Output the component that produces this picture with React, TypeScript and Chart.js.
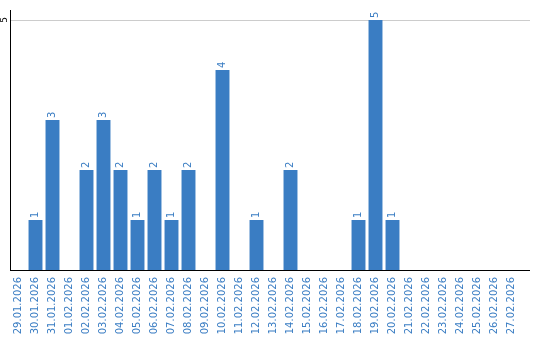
import React, { useEffect, useRef } from "react";
import { Chart, registerables } from "chart.js";

Chart.register(...registerables);

const categories = [
  "29.01.2026", "30.01.2026", "31.01.2026", "01.02.2026", "02.02.2026",
  "03.02.2026", "04.02.2026", "05.02.2026", "06.02.2026", "07.02.2026",
  "08.02.2026", "09.02.2026", "10.02.2026", "11.02.2026", "12.02.2026",
  "13.02.2026", "14.02.2026", "15.02.2026", "16.02.2026", "17.02.2026",
  "18.02.2026", "19.02.2026", "20.02.2026", "21.02.2026", "22.02.2026",
  "23.02.2026", "24.02.2026", "25.02.2026", "26.02.2026", "27.02.2026",
];
const counts = [0, 1, 3, 0, 2, 3, 2, 1, 2, 1, 2, 0, 4, 0, 1, 0, 2, 0, 0, 0, 1, 5, 1, 0, 0, 0, 0, 0, 0, 0];
const yTickValues = [5];

const BLUE = "#3a7dc3";
const FONT = "'DejaVu Sans', sans-serif";
const EXTEND = 10;

const labelPlugin = {
  id: "customLabels",
  beforeDatasetsDraw(chart: any) {
    const ctx = chart.ctx;
    const { right } = chart.chartArea;
    const ys = chart.scales.y;
    ctx.save();
    ctx.lineWidth = 1;
    ctx.strokeStyle = "#cccccc";
    yTickValues.forEach((t) => {
      const y = Math.round(ys.getPixelForValue(t)) + 0.5;
      ctx.beginPath();
      ctx.moveTo(right, y);
      ctx.lineTo(right + EXTEND, y);
      ctx.stroke();
    });
    ctx.strokeStyle = "#000";
    const yb = Math.round(ys.getPixelForValue(0)) + 0.5;
    ctx.beginPath();
    ctx.moveTo(right, yb);
    ctx.lineTo(right + EXTEND, yb);
    ctx.stroke();
    ctx.restore();
  },
  afterDatasetsDraw(chart: any) {
    const ctx = chart.ctx;
    const meta = chart.getDatasetMeta(0);
    ctx.save();
    ctx.fillStyle = BLUE;
    ctx.font = `10px ${FONT}`;
    ctx.textAlign = "left";
    ctx.textBaseline = "middle";
    meta.data.forEach((bar: any, i: number) => {
      const v = counts[i];
      if (!v) return;
      ctx.save();
      ctx.translate(bar.x, bar.y - 2);
      ctx.rotate(-Math.PI / 2);
      ctx.fillText(String(v), 0, 0);
      ctx.restore();
    });
    const ys = chart.scales.y;
    ctx.fillStyle = "#000";
    ctx.font = `9px ${FONT}`;
    ctx.textAlign = "center";
    ctx.textBaseline = "middle";
    yTickValues.forEach((t) => {
      ctx.save();
      ctx.translate(4.5, ys.getPixelForValue(t));
      ctx.rotate(-Math.PI / 2);
      ctx.fillText(String(t), 0, 0);
      ctx.restore();
    });
    ctx.restore();
  },
};

export default function App() {
  const ref = useRef<HTMLCanvasElement>(null);
  useEffect(() => {
    document.body.style.margin = "0";
    const chart = new Chart(ref.current!, {
      type: "bar",
      data: {
        labels: categories,
        datasets: [
          {
            data: counts,
            backgroundColor: BLUE,
            barPercentage: 0.82,
            categoryPercentage: 1,
          },
        ],
      },
      options: {
        animation: false,
        responsive: false,
        maintainAspectRatio: false,
        layout: { padding: { left: 0, right: 20, top: 10, bottom: 0 } },
        plugins: { legend: { display: false }, tooltip: { enabled: false } },
        scales: {
          x: {
            grid: { display: false, drawTicks: false },
            border: { display: true, color: "#000", width: 1 },
            ticks: {
              color: BLUE,
              font: { family: FONT, size: 10 },
              minRotation: 90,
              maxRotation: 90,
              autoSkip: false,
              padding: 7,
            },
            afterFit(s: any) {
              s.height = 70;
            },
          },
          y: {
            min: 0,
            max: 5.2,
            grid: { color: "#cccccc", drawTicks: false },
            border: { display: true, color: "#000", width: 1 },
            ticks: { display: false },
            afterBuildTicks(s: any) {
              s.ticks = yTickValues.map((v) => ({ value: v }));
            },
            afterFit(s: any) {
              s.width = 10;
            },
          },
        },
      },
      plugins: [labelPlugin],
    });
    return () => chart.destroy();
  }, []);
  return <canvas ref={ref} width={540} height={340} style={{ display: "block" }} />;
}
